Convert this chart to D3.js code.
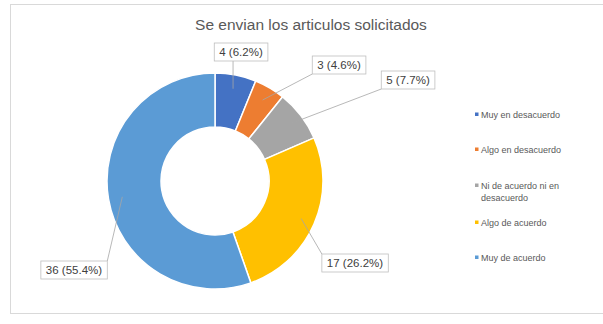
<!DOCTYPE html>
<html>
<head>
<meta charset="utf-8">
<script src="https://cdn.jsdelivr.net/npm/d3@7/dist/d3.min.js"></script>
<style>
  html, body { margin: 0; padding: 0; background: #fff; }
  svg { display: block; font-family: "Liberation Sans", Arial, sans-serif; }
</style>
</head>
<body>
<svg id="chart" width="603" height="324"></svg>
<script>
// Survey answers for "Se envian los articulos solicitados"
const categories = ["Muy en desacuerdo", "Algo en desacuerdo", "Ni de acuerdo ni en desacuerdo", "Algo de acuerdo", "Muy de acuerdo"];
const counts = [4, 3, 5, 17, 36];
const legendLines = [["Muy en desacuerdo"], ["Algo en desacuerdo"], ["Ni de acuerdo ni en", "desacuerdo"], ["Algo de acuerdo"], ["Muy de acuerdo"]];
const colors = ["#4472C4", "#ED7D31", "#A5A5A5", "#FFC000", "#5B9BD5"];
const title = "Se envian los articulos solicitados";

const svg = d3.select("#chart");
const W = 603, H = 324;

// chart frame
svg.append("rect")
  .attr("x", 10.5).attr("y", 4.5).attr("width", W - 10).attr("height", 309)
  .attr("fill", "#fff").attr("stroke", "#d9d9d9");

svg.append("text")
  .attr("x", 311).attr("y", 30)
  .attr("text-anchor", "middle")
  .attr("font-size", 15.5)
  .attr("fill", "#595959")
  .text(title);

const cx = 215, cy = 181, rOuter = 108, rInner = 54;
const total = d3.sum(counts);
const data = categories.map((c, i) => ({ cat: c, value: counts[i], color: colors[i], i }));

const pie = d3.pie().value(d => d.value).sort(null);
const arcs = pie(data);
const arc = d3.arc().innerRadius(rInner).outerRadius(rOuter);

const g = svg.append("g").attr("transform", `translate(${cx},${cy})`);
g.selectAll("path.slice").data(arcs).enter().append("path")
  .attr("class", "slice")
  .attr("d", arc)
  .attr("fill", d => d.data.color)
  .attr("stroke", "#fff")
  .attr("stroke-width", 1.5);

// data labels, placed outside the ring with leader lines
const labelPos = [
  { x: 241, y: 52 },
  { x: 339, y: 65 },
  { x: 408, y: 80 },
  { x: 355, y: 263 },
  { x: 74, y: 270 }
];
const fmt = d3.format(".1f");
const labels = svg.append("g");
arcs.forEach((a, k) => {
  const p = labelPos[k];
  const txt = `${a.data.value} (${fmt(a.data.value / total * 100)}%)`;
  const mid = (a.startAngle + a.endAngle) / 2;
  const rr = rOuter - 14;
  const sx = cx + Math.sin(mid) * rr, sy = cy - Math.cos(mid) * rr;
  const t = labels.append("text")
    .attr("x", p.x).attr("y", p.y + 4)
    .attr("text-anchor", "middle")
    .attr("font-size", 11.5)
    .attr("fill", "#404040")
    .text(txt);
  const bb = t.node().getBBox();
  const bx = bb.x - 5, by = p.y - 9, bw = bb.width + 10, bh = 18;
  // leader line end on box edge nearest the slice
  let ex, ey;
  if (sx < bx) { ex = bx; ey = Math.max(by, Math.min(by + bh, sy)); }
  else if (sx > bx + bw) { ex = bx + bw; ey = Math.max(by, Math.min(by + bh, sy)); }
  else { ex = sx; ey = sy > by + bh ? by + bh : by; }
  labels.insert("line", "text")
    .attr("x1", sx).attr("y1", sy).attr("x2", ex).attr("y2", ey)
    .attr("stroke", "#a6a6a6").attr("stroke-width", 0.8);
  labels.insert("rect", "text")
    .attr("x", bx).attr("y", by).attr("width", bw).attr("height", bh)
    .attr("fill", "#fff").attr("stroke", "#bfbfbf").attr("stroke-width", 0.8);
});

// legend
const legendY = [115, 150, 186, 223, 258];
const lg = svg.append("g");
legendLines.forEach((lines, i) => {
  const y = legendY[i];
  lg.append("rect").attr("x", 475).attr("y", y - 2.5).attr("width", 3.5).attr("height", 3.5).attr("fill", colors[i]);
  lines.forEach((ln, j) => {
    lg.append("text")
      .attr("x", 481).attr("y", y + 3 + j * 12)
      .attr("font-size", 9)
      .attr("fill", "#595959")
      .text(ln);
  });
});
</script>
</body>
</html>
